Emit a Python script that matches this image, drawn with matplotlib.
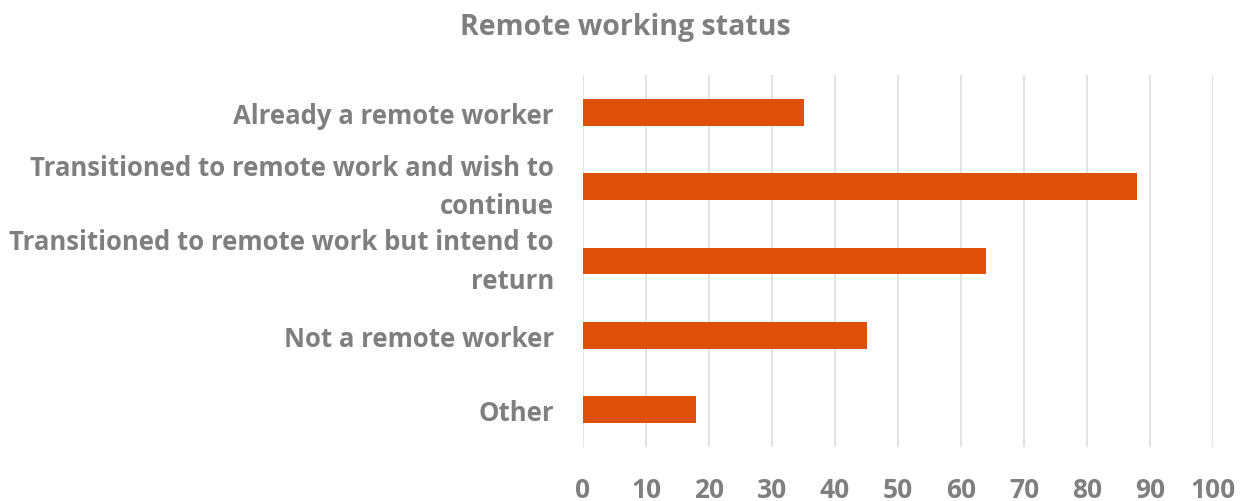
import matplotlib.pyplot as plt
import matplotlib as mpl

mpl.rcParams['font.family'] = ['Open Sans', 'DejaVu Sans']

categories = [
    "Already a remote worker",
    "Transitioned to remote work and wish to\ncontinue",
    "Transitioned to remote work but intend to\nreturn",
    "Not a remote worker",
    "Other",
]
values = [35, 88, 64, 45, 18]
x_ticks = list(range(0, 101, 10))

TEXT_COLOR = '#7F7F7F'
BAR_COLOR = '#DF500A'
GRID_COLOR = '#E3E3E3'

fig = plt.figure(figsize=(12.44, 5.02), dpi=100)
ax = fig.add_axes([583 / 1244, 1 - 448 / 502, (1213 - 583) / 1244, (448 - 76) / 502])

y_pos = list(range(len(categories)))
ax.barh(y_pos, values, height=0.36, color=BAR_COLOR, zorder=3)
ax.set_ylim(len(categories) - 0.5, -0.5)
ax.set_xlim(0, 100)

ax.set_yticks(y_pos)
ax.set_yticklabels(categories, fontsize=18.5, fontweight='bold',
                   color=TEXT_COLOR, linespacing=1.55)
for lbl in ax.get_yticklabels():
    if "\n" in lbl.get_text():
        lbl.set_va('center')
ax.set_xticks(x_ticks)
ax.set_xticklabels([str(t) for t in x_ticks], fontsize=19,
                   fontweight='bold', color=TEXT_COLOR)
ax.tick_params(axis='y', length=0, pad=21)
ax.tick_params(axis='x', length=0, pad=21)

ax.grid(axis='x', color=GRID_COLOR, linewidth=1.5, zorder=0)
for s in ax.spines.values():
    s.set_visible(False)

fig.text(625 / 1244, 1 - 27 / 502, "Remote working status", ha='center',
         va='center', fontsize=20.5, fontweight='bold', color=TEXT_COLOR)

fig.savefig('out.png', dpi=100)
